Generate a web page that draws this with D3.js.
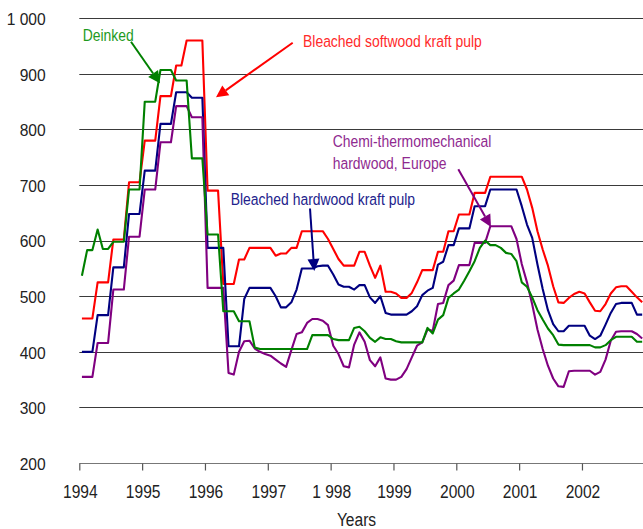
<!DOCTYPE html>
<html>
<head>
<meta charset="utf-8">
<script src="https://cdn.jsdelivr.net/npm/d3@7"></script>
<style>
  html, body { margin: 0; padding: 0; background: #fff; }
  svg { display: block; }
</style>
</head>
<body>
<svg id="chart" width="643" height="529"></svg>
<script>
// Monthly pulp prices, Jan 1994 – Dec 2002 (one row per year, 12 months each)
const softwoodKraft = [
  460,460,460,525,525,525,602,602,602,705,705,705,
  780,780,780,860,860,860,915,915,960,960,960,960,
  690,690,690,522,522,522,566,566,587,587,587,587,
  587,573,577,577,587,587,617,617,617,617,617,603,
  585,567,555,555,555,580,580,555,533,555,508,508,
  505,497,497,506,525,547,547,547,580,580,617,617,
  647,647,647,686,686,686,715,715,715,715,715,715,
  715,692,659,617,584,555,518,489,488,497,504,508,
  505,489,474,473,486,505,516,518,518,508,498,489
];
const hardwoodKraft = [
  400,400,400,466,466,466,552,552,552,648,648,648,
  726,726,726,810,810,810,867,867,867,857,857,857,
  587,587,587,587,410,410,410,495,515,515,515,515,
  515,500,480,480,489,512,550,550,550,554,555,555,
  539,521,517,517,512,520,520,498,488,500,470,467,
  467,467,467,473,482,502,510,515,557,562,592,592,
  622,622,622,662,662,662,692,692,692,692,692,692,
  662,629,605,557,513,475,450,437,437,447,447,447,
  447,429,423,429,449,470,486,488,488,488,467,467
];
const ctmpEurope = [
  355,355,355,416,416,416,512,512,512,607,607,607,
  692,692,692,777,777,777,842,842,842,822,822,822,
  515,515,515,515,362,359,400,419,420,406,400,396,
  393,386,379,373,403,432,435,452,459,459,456,448,
  411,396,374,372,413,435,418,385,374,390,352,350,
  350,355,369,390,411,417,440,438,486,488,520,528,
  556,556,556,596,596,596,626,626,626,626,626,603,
  558,525,485,440,405,375,352,338,337,365,366,366,
  366,366,359,364,386,420,436,437,437,437,432,424
];
const deinked = [
  537,583,583,620,585,585,598,598,598,692,692,692,
  850,850,850,907,907,907,888,888,888,748,748,748,
  611,611,611,473,473,473,455,455,455,408,405,405,
  405,405,405,405,405,405,405,405,430,430,430,430,
  423,421,421,421,443,445,437,425,418,426,423,423,
  419,417,417,417,417,417,443,433,458,466,497,505,
  512,528,545,563,587,600,592,592,587,578,576,563,
  525,517,498,475,458,442,430,413,412,412,412,412,
  412,412,408,408,412,421,427,427,427,427,418,418
];

const startYear = 1994;
const yearTicks = [1994, 1995, 1996, 1997, 1998, 1999, 2000, 2001, 2002];
const yearLabels = ["1994", "1995", "1996", "1997", "1 998", "1999", "2000", "2001", "2002"];
const priceTicks = [200, 300, 400, 500, 600, 700, 800, 900, 1000];
const priceLabels = ["200", "300", "400", "500", "600", "700", "800", "900", "1 000"];
const axisTitle = "Years";

const seriesNames = ["Bleached softwood kraft pulp", "Bleached hardwood kraft pulp",
                     "Chemi-thermomechanical hardwood, Europe", "Deinked"];
const seriesColors = ["#ff0000", "#000080", "#800080", "#008000"];
const textColors = ["#ff2a2a", "#22228c", "#8f2a8f", "#1e9a1e"];

const svg = d3.select("#chart");
const W = 643, H = 529;

const x = d3.scaleLinear().domain([1994, 2003]).range([79.3, 644.8]);
const y = d3.scaleLinear().domain([200, 1000]).range([463, 18.3]);

// check whether a condensed face is available; otherwise squeeze the regular one
function narrowFace() {
  const t = svg.append("text").style("font-size", "20px").text("Bleached hardwood 1994");
  t.style("font-family", "'Liberation Sans Narrow'");
  const wn = t.node().getComputedTextLength();
  t.style("font-family", "'Liberation Sans'");
  const wr = t.node().getComputedTextLength();
  t.remove();
  return wn < wr * 0.9;
}
const hasNarrow = narrowFace();
const NARROW = hasNarrow ? "'Liberation Sans Narrow', 'Arial Narrow', sans-serif" : "'Liberation Sans', Arial, sans-serif";
const squeeze = hasNarrow ? 1 : 0.82;

function narrowText(parent, tx, ty, str, size, color, anchor) {
  const g = parent.append("g").attr("transform", `translate(${tx},${ty}) scale(${squeeze},1)`);
  return g.append("text")
    .attr("x", 0).attr("y", 0)
    .attr("text-anchor", anchor || "start")
    .style("font-family", NARROW)
    .style("font-size", size + "px")
    .style("fill", color)
    .text(str);
}

// horizontal gridlines
svg.append("g").selectAll("line")
  .data(priceTicks.filter(d => d > 200))
  .join("line")
  .attr("x1", x(1994)).attr("x2", W)
  .attr("y1", d => Math.round(y(d)) + 0.5).attr("y2", d => Math.round(y(d)) + 0.5)
  .attr("stroke", "#3a3a3a").attr("stroke-width", 1.1);

// y-axis labels
svg.append("g").selectAll("text")
  .data(priceTicks)
  .join("text")
  .attr("x", 45.7)
  .attr("y", d => y(d) + 6.8)
  .attr("text-anchor", "end")
  .style("font-family", "'Liberation Sans', Arial, sans-serif")
  .style("font-size", "15.6px")
  .style("fill", "#222")
  .text((d, i) => priceLabels[i]);

// x axis
const xAxis = d3.axisBottom(x).tickValues(yearTicks).tickSize(7).tickFormat("");
const gx = svg.append("g").attr("transform", `translate(0,${Math.round(y(200)) + 0.5})`).call(xAxis);
gx.select(".domain").attr("d", `M${x(1994)},0H${W}`).attr("stroke", "#777").attr("stroke-width", 1.2);
gx.selectAll(".tick line").attr("stroke", "#555").attr("stroke-width", 1.2);

yearTicks.forEach((yr, i) => {
  narrowText(svg, x(yr) + 1, 498, yearLabels[i], 19, "#222", "middle");
});
narrowText(svg, 356.5, 526, axisTitle, 19, "#222", "middle");

// price lines
const months = d3.range(softwoodKraft.length).map(i => startYear + (i + 0.5) / 12);
const line = d3.line().x((d, i) => x(months[i])).y(d => y(d));
const allSeries = [softwoodKraft, hardwoodKraft, ctmpEurope, deinked];
svg.append("g").selectAll("path")
  .data(allSeries)
  .join("path")
  .attr("d", line)
  .attr("fill", "none")
  .attr("stroke", (d, i) => seriesColors[i])
  .attr("stroke-width", 2.1)
  .attr("stroke-linejoin", "round");

// callout arrows
function arrow(x1, y1, x2, y2, color) {
  const ang = Math.atan2(y2 - y1, x2 - x1);
  const L = 12, Wd = 6;
  const bx = x2 - L * Math.cos(ang), by = y2 - L * Math.sin(ang);
  svg.append("line")
    .attr("x1", x1).attr("y1", y1).attr("x2", bx).attr("y2", by)
    .attr("stroke", color).attr("stroke-width", 2);
  const px = -Math.sin(ang) * Wd, py = Math.cos(ang) * Wd;
  svg.append("path")
    .attr("d", `M${x2},${y2}L${bx + px},${by + py}L${bx - px},${by - py}Z`)
    .attr("fill", color);
}

// labels
narrowText(svg, 303, 46.8, seriesNames[0], 17, textColors[0]);
arrow(292.7, 42.7, 216, 97.3, seriesColors[0]);

narrowText(svg, 230.7, 205, seriesNames[1], 17, textColors[1]);
arrow(310, 208.5, 314.3, 271, seriesColors[1]);

narrowText(svg, 332.7, 146.8, "Chemi-thermomechanical", 17, textColors[2]);
narrowText(svg, 332.7, 168.5, "hardwood, Europe", 17, textColors[2]);
arrow(458.3, 169.3, 491, 227, seriesColors[2]);

narrowText(svg, 82.7, 41.3, seriesNames[3], 17, textColors[3]);
arrow(131, 41.7, 160, 83.3, seriesColors[3]);
</script>
</body>
</html>
